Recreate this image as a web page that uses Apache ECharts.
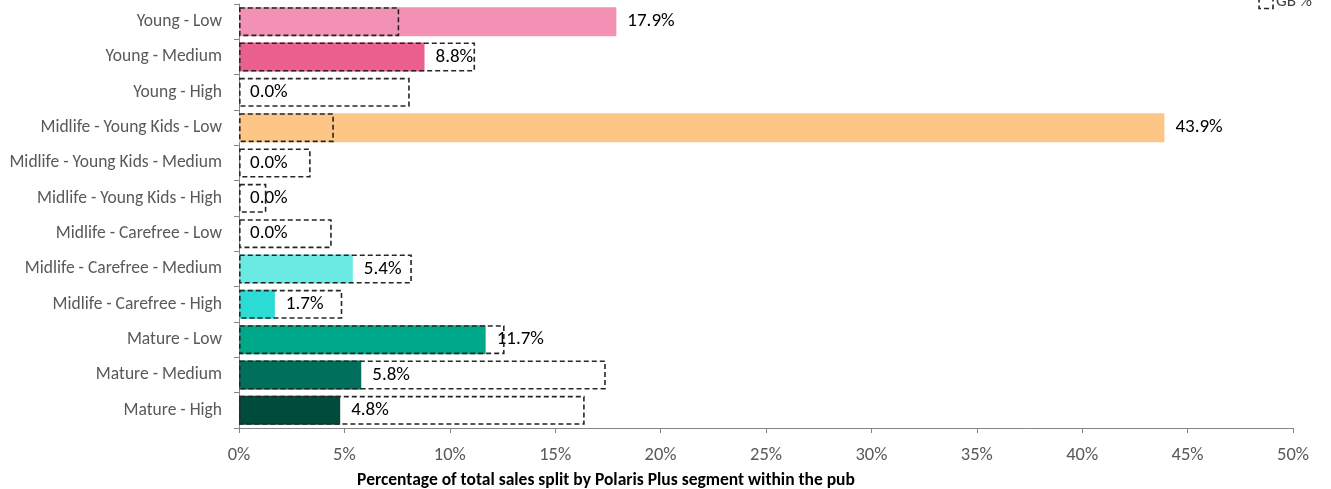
<!DOCTYPE html>
<html>
<head>
<meta charset="utf-8">
<style>
  html, body { margin: 0; padding: 0; background: #fff; }
  #chart { width: 1331px; height: 489px; }
</style>
<script src="https://cdn.jsdelivr.net/npm/echarts@6/dist/echarts.min.js"></script>
</head>
<body>
<div id="chart"></div>
<script>
// Polaris Plus segments, top to bottom
const categories = [
  'Young - Low', 'Young - Medium', 'Young - High',
  'Midlife - Young Kids - Low', 'Midlife - Young Kids - Medium', 'Midlife - Young Kids - High',
  'Midlife - Carefree - Low', 'Midlife - Carefree - Medium', 'Midlife - Carefree - High',
  'Mature - Low', 'Mature - Medium', 'Mature - High'
];
// Share of the pub's sales per segment (%)
const pubShare = [17.9, 8.8, 0.0, 43.9, 0.0, 0.0, 0.0, 5.4, 1.7, 11.7, 5.8, 4.8];
// National (GB) benchmark share per segment (%)
const gbShare = [7.6, 11.2, 8.1, 4.5, 3.4, 1.3, 4.4, 8.2, 4.9, 12.6, 17.4, 16.4];
// Segment colours
const segmentColors = [
  '#f291b3', '#eb5f8f', '#f7a8c6',
  '#fec686', '#fdd3a0', '#fbe0bd',
  '#b9f0ee', '#6beae3', '#2cdcd4',
  '#00a88a', '#006f5b', '#004b3b'
];
const xTicks = { min: 0, max: 50, interval: 5 };

const font = 'Carlito, Lato, "Open Sans", sans-serif';
const dashStyle = {
  color: 'rgba(0,0,0,0)',
  borderColor: '#262626',
  borderWidth: 1.6,
  borderType: [5, 3]
};
const chart = echarts.init(document.getElementById('chart'), null, { renderer: 'canvas' });

chart.setOption({
  animation: false,
  textStyle: { fontFamily: font },
  grid: { left: 239, right: 38, top: 4, bottom: 61, containLabel: false, outerBoundsMode: 'none' },
  legend: {
    data: [{ name: 'GB %', icon: 'rect', itemStyle: dashStyle }],
    right: 14,
    top: -12,
    itemWidth: 14,
    itemHeight: 14,
    itemGap: 4,
    textStyle: { fontFamily: font, fontSize: 17, color: '#404040', padding: [0, 0, 0, -2] }
  },
  xAxis: {
    type: 'value',
    min: xTicks.min,
    max: xTicks.max,
    interval: xTicks.interval,
    splitLine: { show: false },
    axisLine: { show: true, lineStyle: { color: '#868686', width: 1 } },
    axisTick: { show: true, length: 5, lineStyle: { color: '#868686' } },
    axisLabel: { formatter: '{value}%', fontSize: 18.5, color: '#595959', margin: 18, fontFamily: font },
    name: 'Percentage of total sales split by Polaris Plus segment within the pub',
    nameLocation: 'middle',
    nameGap: 44,
    nameTextStyle: { fontFamily: font, fontSize: 17.5, fontWeight: 'bold', color: '#000', padding: [0, 320, 0, 0] }
  },
  yAxis: {
    type: 'category',
    data: categories,
    inverse: true,
    axisLine: { show: true, lineStyle: { color: '#868686', width: 1 } },
    axisTick: { show: true, length: 5, lineStyle: { color: '#868686' } },
    axisLabel: { fontSize: 17.5, color: '#595959', margin: 17, fontFamily: font }
  },
  series: [
    {
      name: 'Pub %',
      type: 'bar',
      barCategoryGap: '18%',
      barGap: '-100%',
      data: pubShare.map((v, i) => ({ value: v, itemStyle: { color: segmentColors[i] } })),
      label: {
        show: true,
        position: 'right',
        distance: 11,
        formatter: p => p.value.toFixed(1) + '%',
        fontSize: 19,
        color: '#000',
        fontFamily: font
      }
    },
    {
      name: 'GB %',
      type: 'bar',
      barCategoryGap: '18%',
      barGap: '-100%',
      z: 3,
      data: gbShare,
      itemStyle: dashStyle
    }
  ]
});
</script>
</body>
</html>
